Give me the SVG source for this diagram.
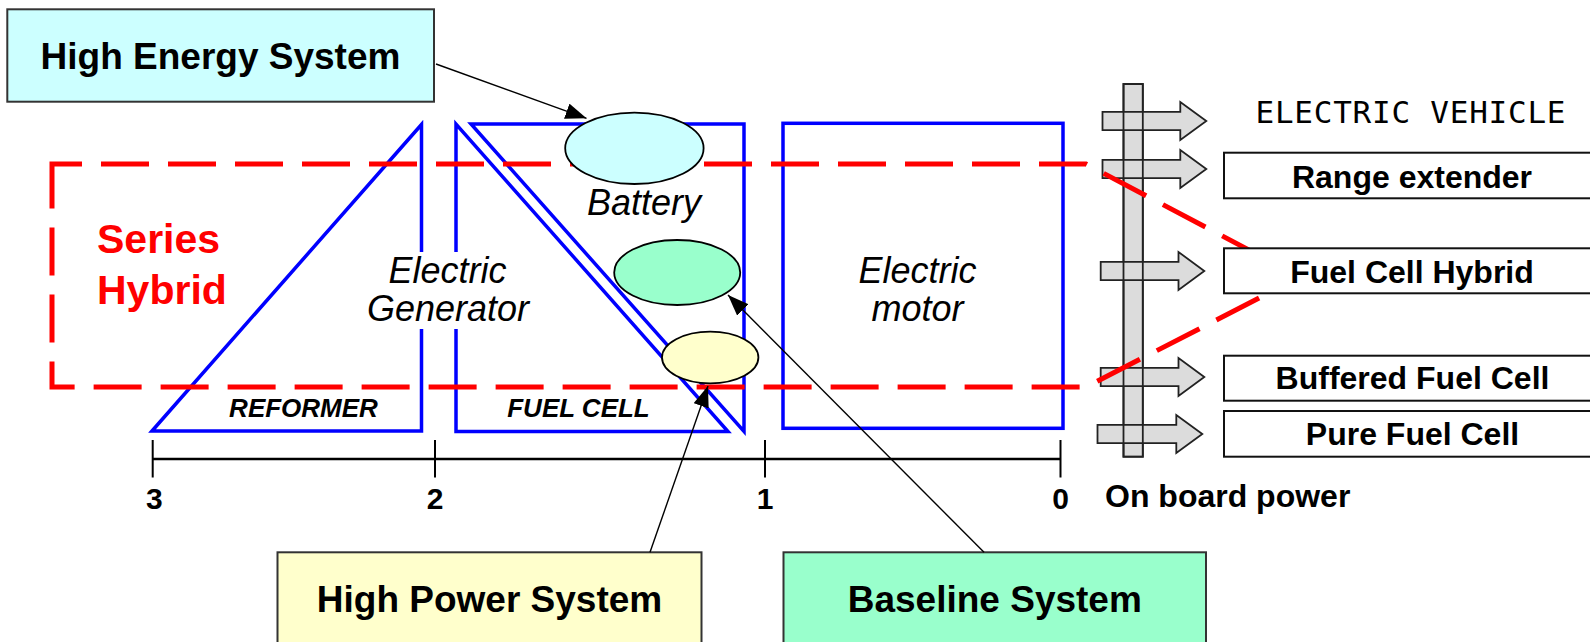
<svg xmlns="http://www.w3.org/2000/svg" width="1590" height="642" viewBox="0 0 1590 642">
<style>
text{font-family:"Liberation Sans",Arial,Helvetica,sans-serif;fill:#000}
.blue{fill:none;stroke:#0000ff;stroke-width:3.5;stroke-linejoin:miter}
.big{font-size:37px;font-weight:bold;text-anchor:middle}
.mid{font-size:36px;font-style:italic;text-anchor:middle}
.sm{font-size:26px;font-weight:bold;font-style:italic;text-anchor:middle}
.num{font-size:30px;font-weight:bold;text-anchor:middle}
.lab{font-size:32px;font-weight:bold;text-anchor:middle}
.sys{stroke:#333;stroke-width:2}
.ell{stroke:#000;stroke-width:1.8}
.barr{fill:#dcdcdc;stroke:#222;stroke-width:1.8;stroke-linejoin:miter}
.box{fill:#fff;stroke:#111;stroke-width:2}
.conn{fill:none;stroke:#000;stroke-width:1.4}
</style>
<defs>
<marker id="ah" markerUnits="userSpaceOnUse" markerWidth="22" markerHeight="16" refX="21" refY="8" orient="auto">
<path d="M0,0 L21,8 L0,16 Z" fill="#000"/>
</marker>
</defs>
<rect width="1590" height="642" fill="#fff"/>

<g id="reformer">
<path class="blue" d="M152,431 L421.5,124.5 L421.5,431 Z"/>
<text class="sm" x="303.5" y="417.3">REFORMER</text>
</g>
<g id="fuel-cell">
<path class="blue" d="M456,124 L456,431.5 L728,431.5 Z"/>
<text class="sm" x="578.5" y="417">FUEL CELL</text>
</g>
<g id="battery-area">
<path class="blue" d="M471,124 L744,124 L744,431.5 Z"/>
</g>
<g id="electric-motor">
<rect class="blue" x="783" y="123.3" width="280" height="305"/>
<text class="mid" x="917.5" y="283">Electric</text>
<text class="mid" x="917.5" y="320.7">motor</text>
</g>
<g id="electric-generator">
<rect x="358" y="252" width="182" height="77" fill="#fff"/>
<text class="mid" x="447.5" y="283">Electric</text>
<text class="mid" x="448" y="321">Generator</text>
</g>

<g id="onboard-bus">
<rect x="1123.5" y="84" width="19.3" height="372.7" fill="#dcdcdc" stroke="#222" stroke-width="1.8"/>
<path class="barr" d="M1102.5,111.8 H1180.3 V102 L1206.3,121 L1180.3,140 V130.2 H1102.5 Z"/>
<path class="barr" d="M1102.5,159.8 H1180.3 V150 L1206.3,169 L1180.3,188 V178.2 H1102.5 Z"/>
<path class="barr" d="M1100.7,261.8 H1178.5 V252 L1204.3,271 L1178.5,290 V280.2 H1100.7 Z"/>
<path class="barr" d="M1100.7,367.8 H1178.5 V358 L1204.3,377 L1178.5,396 V386.2 H1100.7 Z"/>
<path class="barr" d="M1097.5,424.8 H1176.3 V415 L1202.3,434 L1176.3,453 V443.2 H1097.5 Z"/>
<rect x="1123.5" y="84" width="19.3" height="372.7" fill="none" stroke="#222" stroke-width="1.8"/>
</g>

<g id="series-hybrid">
<path d="M52,182 L52,164 L1086,164 L1300,277 L1086,387 L52,387 Z" fill="none" stroke="#ff0000" stroke-width="5" stroke-dasharray="48 19"/>
<text x="97" y="253" font-size="41" font-weight="bold" style="fill:#ff0000">Series</text>
<text x="97" y="304" font-size="41" font-weight="bold" style="fill:#ff0000">Hybrid</text>
</g>

<g id="battery">
<ellipse class="ell" cx="634.4" cy="148.3" rx="69.2" ry="35.7" fill="#ccffff"/>
<text class="mid" x="644" y="215">Battery</text>
</g>
<g id="baseline-cell">
<ellipse class="ell" cx="677.2" cy="272.5" rx="63" ry="32.5" fill="#99ffcc"/>
</g>
<g id="high-power-cell">
<ellipse class="ell" cx="710.2" cy="357.5" rx="48.2" ry="25.8" fill="#ffffcc"/>
</g>

<g id="axis">
<line x1="152.7" y1="459" x2="1060.5" y2="459" stroke="#000" stroke-width="2.5"/>
<g stroke="#000" stroke-width="2">
<line x1="152.7" y1="440" x2="152.7" y2="477.5"/>
<line x1="435" y1="440" x2="435" y2="477.5"/>
<line x1="765" y1="440" x2="765" y2="477.5"/>
<line x1="1060.5" y1="440" x2="1060.5" y2="477.5"/>
</g>
<text class="num" x="154.4" y="508.5">3</text>
<text class="num" x="435" y="508.5">2</text>
<text class="num" x="765" y="508.5">1</text>
<text class="num" x="1060.7" y="508.5">0</text>
<text x="1105" y="507" font-size="32" font-weight="bold">On board power</text>
</g>

<g id="electric-vehicle">
<text x="1255.5" y="123.3" font-size="31" textLength="310" lengthAdjust="spacing" style="font-family:'DejaVu Sans Mono','Liberation Mono',monospace">ELECTRIC VEHICLE</text>
</g>
<g id="range-extender">
<rect class="box" x="1224" y="152.7" width="380" height="45.6"/>
<text class="lab" x="1412" y="187.5">Range extender</text>
</g>
<g id="fuel-cell-hybrid">
<rect class="box" x="1224" y="248.3" width="380" height="45"/>
<text class="lab" x="1412" y="283">Fuel Cell Hybrid</text>
</g>
<g id="buffered-fuel-cell">
<rect class="box" x="1224" y="355.7" width="380" height="45"/>
<text class="lab" x="1412.5" y="389">Buffered Fuel Cell</text>
</g>
<g id="pure-fuel-cell">
<rect class="box" x="1224" y="411" width="380" height="45.7"/>
<text class="lab" x="1412.5" y="445">Pure Fuel Cell</text>
</g>

<g id="high-energy-system">
<rect class="sys" x="7.3" y="9.3" width="426.7" height="92.4" fill="#ccffff"/>
<text class="big" x="220.5" y="69">High Energy System</text>
</g>
<g id="high-power-system">
<rect class="sys" x="277.5" y="552.3" width="424" height="100" fill="#ffffcc"/>
<text class="big" x="489.5" y="611.7">High Power System</text>
</g>
<g id="baseline-system">
<rect class="sys" x="783.5" y="552.3" width="422.5" height="100" fill="#99ffcc"/>
<text class="big" x="994.8" y="611.7">Baseline System</text>
</g>

<g id="connectors">
<line class="conn" x1="436" y1="64" x2="586.5" y2="118.3" marker-end="url(#ah)"/>
<line class="conn" x1="650" y1="552.3" x2="708" y2="386" marker-end="url(#ah)"/>
<line class="conn" x1="984" y1="552.3" x2="728" y2="295" marker-end="url(#ah)"/>
</g>
</svg>
